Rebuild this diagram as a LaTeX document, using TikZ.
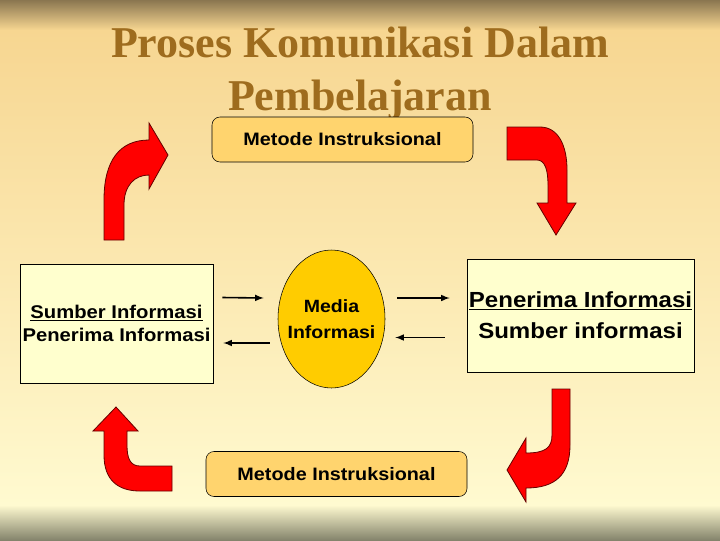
\documentclass[tikz,border=0pt]{standalone}
\usepackage{fontspec}
\setmainfont{Liberation Serif}
\newfontfamily\boxfont[FakeStretch=1.1]{Liberation Sans}
\usetikzlibrary{shapes.geometric}
\definecolor{titlebrown}{RGB}{158,108,30}
\definecolor{boxgold}{RGB}{255,212,110}
\definecolor{boxcream}{RGB}{255,255,206}
\definecolor{mediagold}{RGB}{255,204,0}
\definecolor{darkred}{RGB}{100,0,0}
\definecolor{bgtop}{RGB}{138,118,80}
\definecolor{bgmid}{RGB}{247,214,145}
\definecolor{bglow}{RGB}{255,250,208}
\definecolor{bgbot}{RGB}{132,132,108}

\begin{document}
\begin{tikzpicture}[x=0.75pt,y=-0.75pt,>=latex,
    metode/.style={draw,fill=boxgold,rounded corners=6pt,minimum width=195.75pt,minimum height=33.75pt,
      font=\boxfont\bfseries\fontsize{13.5}{16}\selectfont},
    pihak/.style={draw,fill=boxcream,align=center,inner sep=1pt},
    flow/.style={->,line width=1.2pt},
    belok/.style={fill=red,draw=darkred,line width=0.6pt}]
  \useasboundingbox (0,0) rectangle (720,540);
  \shade[top color=bgtop,bottom color=bgmid] (0,0) rectangle (720,30);
  \shade[top color=bgmid,bottom color=bglow] (0,30) rectangle (720,505);
  \shade[top color=bglow,bottom color=bgbot] (0,505) rectangle (720,540);

  \node[font=\bfseries\fontsize{33}{39.75}\selectfont,text=titlebrown,align=center] (judul) at (360,73)
    {Proses Komunikasi Dalam\\Pembelajaran};

  \node[metode] (atas) at (342.5,139.5) {Metode Instruksional};
  \node[metode] (bawah) at (336.5,474) {Metode Instruksional};
  \node[pihak,minimum width=144.75pt,minimum height=89.25pt,
    font=\boxfont\bfseries\fontsize{13.8}{17.6}\selectfont] (sumber) at (116.5,323.5)
    {\underline{Sumber Informasi}\\Penerima Informasi};
  \node[pihak,minimum width=170.25pt,minimum height=84.75pt,
    font=\boxfont\bfseries\fontsize{16.4}{23.5}\selectfont] (penerima) at (580.5,315.5)
    {\underline{Penerima Informasi}\\Sumber informasi};
  \node[ellipse,draw,fill=mediagold,inner xsep=-14pt,inner ysep=0pt,minimum width=80.25pt,minimum height=103.5pt,
    align=center,font=\boxfont\bfseries\fontsize{13.3}{20}\selectfont] (media) at (331.5,319) {Media\\Informasi};

  % arus informasi
  \draw[flow] ([shift={(9,-26)}]sumber.east) -- ([shift={(-14,-21)}]media.west);
  \draw[flow] ([shift={(-8,24)}]media.west) -- ([shift={(10,19.5)}]sumber.east);
  \draw[flow] ([shift={(12,-21)}]media.east) -- ([shift={(-17,-17.5)}]penerima.west);
  \draw[flow] ([shift={(-22,22)}]penerima.west) -- ([shift={(10,18.5)}]media.east);

  % panah merah
  \draw[belok] (104,240) -- (104,200) .. controls (104,160) and (120,140) .. (149,140) -- (149,123) -- (168,155)
    -- (149,189) -- (149,175) .. controls (135,175) and (124,185) .. (124,205) -- (124,240) -- cycle;
  \draw[belok] (507,127) -- (540,127) .. controls (558,127) and (567,145) .. (567,170) -- (567,203) -- (576,203)
    -- (556,235) -- (537,203) -- (548,203) -- (548,185) .. controls (548,170) and (545,160) .. (537,160) -- (507,160) -- cycle;
  \draw[belok] (172,466) -- (140,466) .. controls (130,466) and (127,458) .. (127,445) -- (127,431) -- (138,431)
    -- (116,407) -- (93,431) -- (104,431) -- (104,455) .. controls (104,480) and (118,491) .. (140,491) -- (172,491) -- cycle;
  \draw[belok] (552,389) -- (570,389) -- (570,445) .. controls (570,475) and (555,488) .. (526,488) -- (526,502)
    -- (507,470) -- (526,438) -- (526,453) .. controls (545,453) and (552,448) .. (552,435) -- cycle;
\end{tikzpicture}
\end{document}
